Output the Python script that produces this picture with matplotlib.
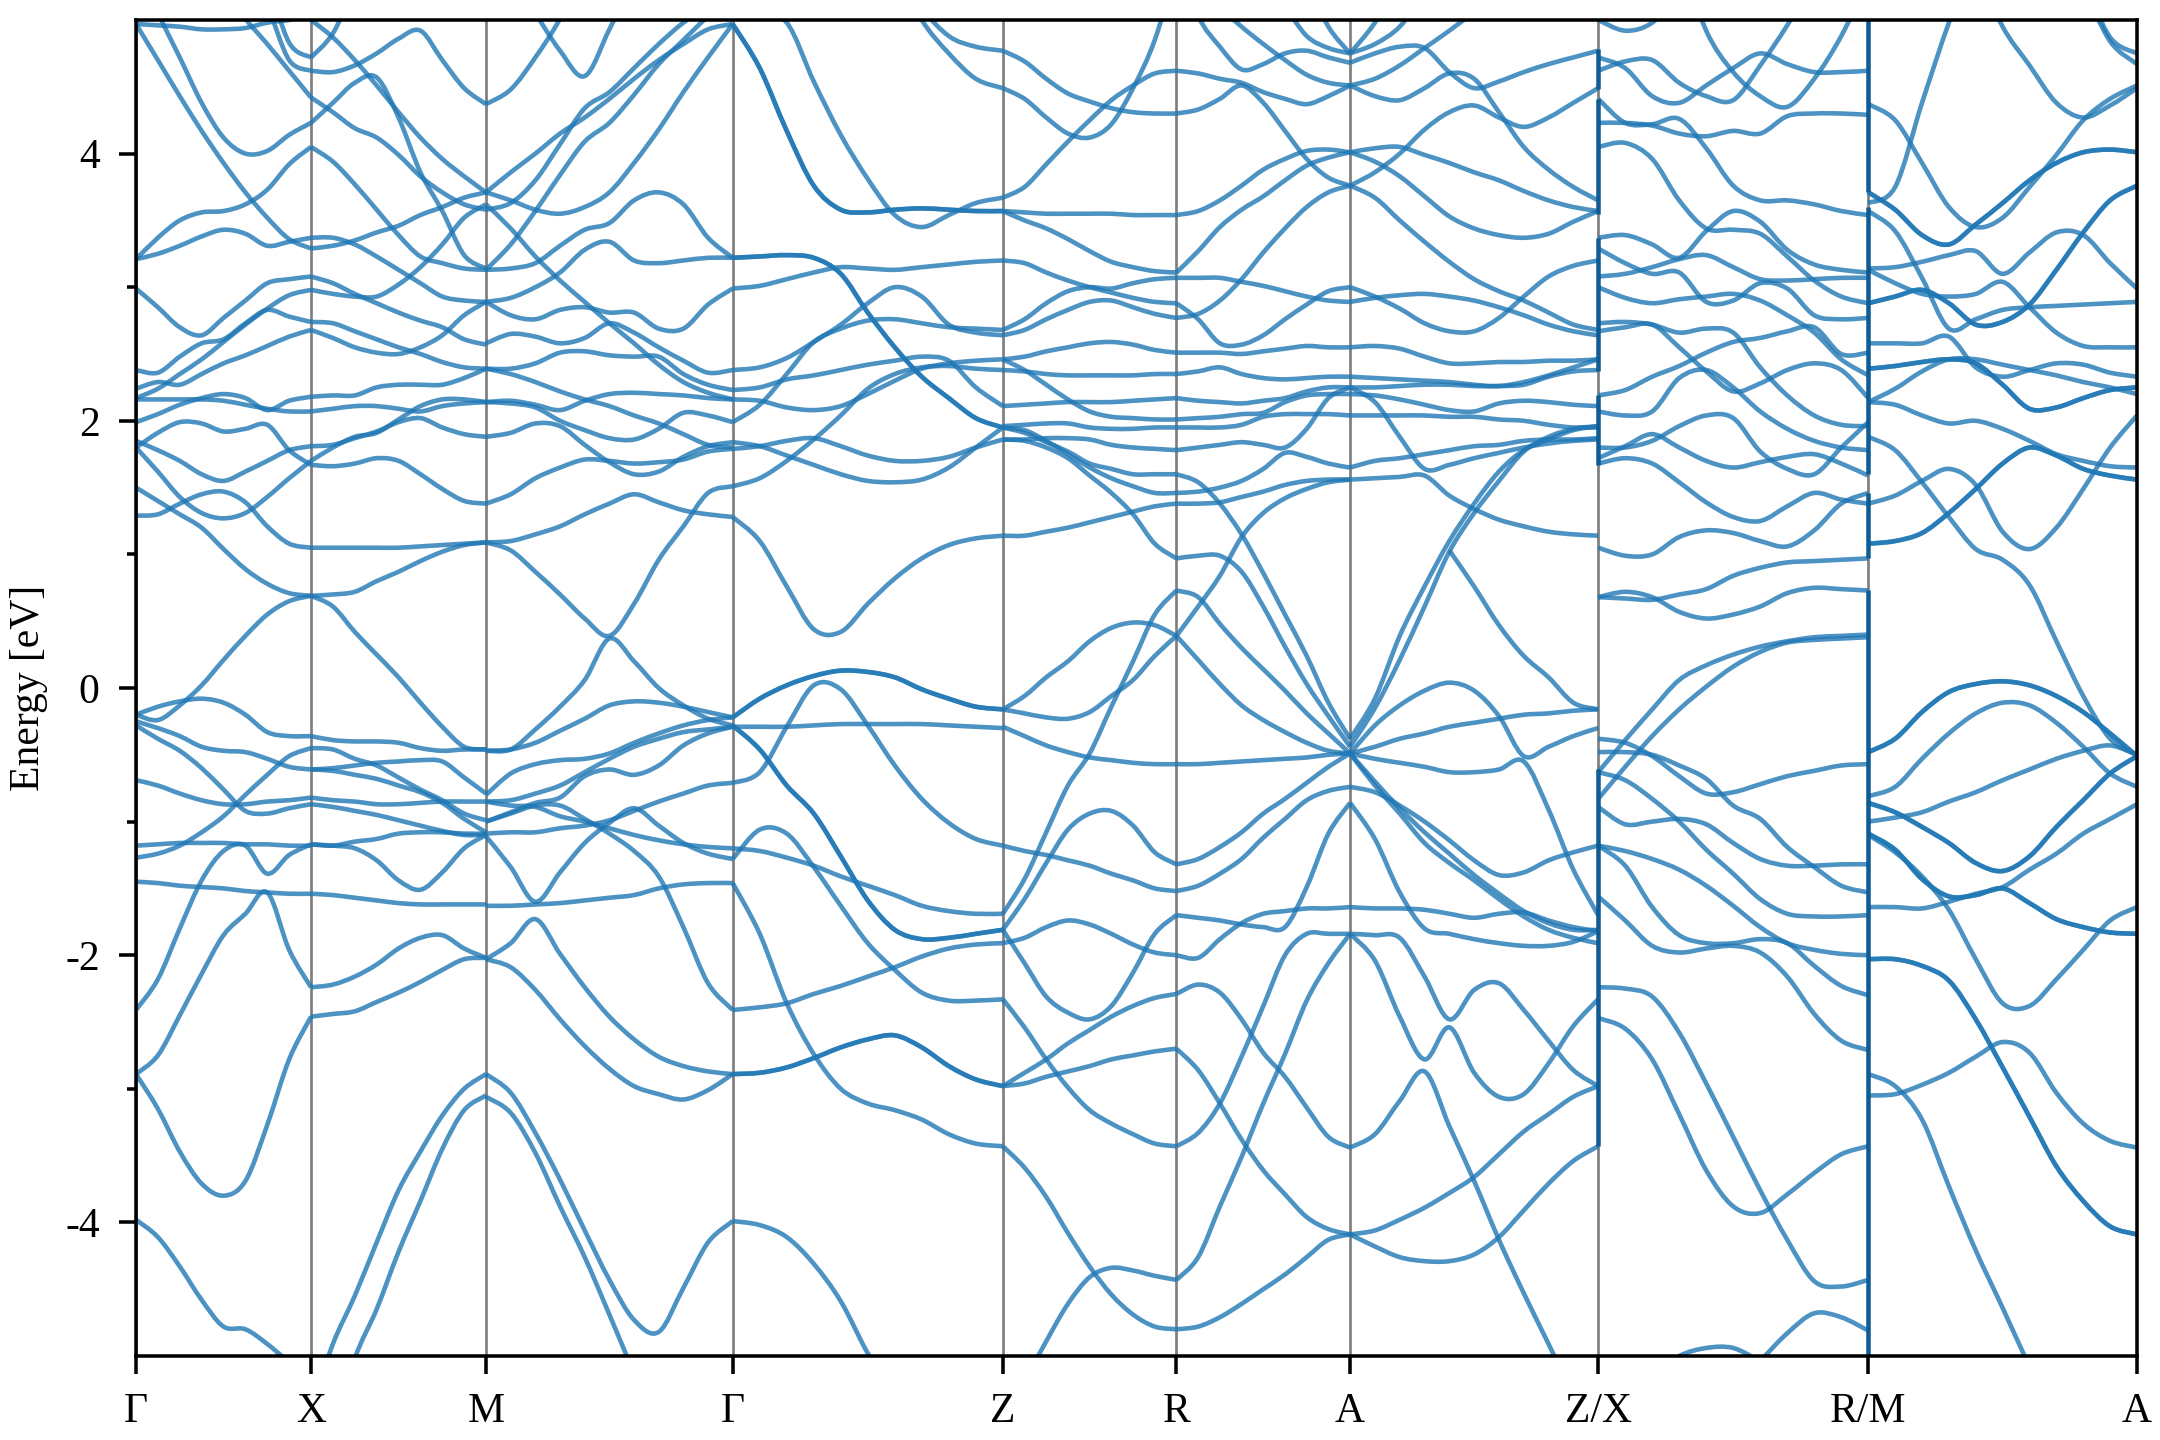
import numpy as np
import matplotlib
matplotlib.use("Agg")
import matplotlib.pyplot as plt
from matplotlib.patches import PathPatch
from matplotlib.path import Path

N = None
tick_pos = [0, 127, 254, 433, 629, 755, 881, 1061, 1257, 1452]
tick_labels = ["Γ", "X", "M", "Γ", "Z", "R", "A", "Z/X", "R/M", "A"]

gamma_x = [
[4.97,4.96,4.95,4.93,4.93,4.94,4.98,5.00,5.03],
[4.97,4.70,4.43,4.17,3.93,3.71,3.52,3.36,3.29],
[5.40,5.05,4.72,4.38,4.12,4.00,4.02,4.14,4.23],
[N,N,N,5.60,5.25,5.01,4.82,4.62,4.42],
[N,N,N,N,5.60,5.35,5.10,4.70,4.62],
[N,N,N,N,N,5.70,5.30,4.83,4.72],
[3.21,3.37,3.50,3.56,3.57,3.62,3.73,3.92,4.05],
[3.21,3.25,3.31,3.38,3.43,3.40,3.31,3.34,3.37],
[2.99,2.85,2.70,2.64,2.77,2.90,3.03,3.06,3.08],
[2.38,2.36,2.48,2.58,2.61,2.73,2.83,2.78,2.74],
[2.24,2.29,2.27,2.35,2.43,2.49,2.56,2.63,2.68],
[2.17,2.24,2.35,2.46,2.59,2.72,2.84,2.94,2.98],
[2.16,2.16,2.16,2.16,2.15,2.12,2.09,2.07,2.07],
[1.99,2.05,2.12,2.17,2.20,2.17,2.08,2.15,2.18],
[1.80,1.91,1.99,1.98,1.92,1.94,1.97,1.78,1.67],
[1.85,1.78,1.70,1.60,1.55,1.62,1.70,1.78,1.81],
[1.80,1.62,1.43,1.31,1.27,1.31,1.43,1.57,1.70],
[1.29,1.30,1.38,1.45,1.47,1.39,1.21,1.08,1.05],
[1.50,1.40,1.30,1.20,1.04,0.89,0.78,0.71,0.69],
[-0.20,-0.24,-0.13,0.02,0.21,0.39,0.55,0.65,0.69],
[-0.20,-0.14,-0.10,-0.08,-0.11,-0.20,-0.33,-0.36,-0.36],
[-0.25,-0.30,-0.36,-0.44,-0.47,-0.48,-0.53,-0.59,-0.61],
[-0.28,-0.38,-0.47,-0.60,-0.76,-0.92,-0.94,-0.90,-0.87],
[-0.69,-0.73,-0.79,-0.84,-0.87,-0.87,-0.85,-0.84,-0.82],
[-1.27,-1.24,-1.18,-1.08,-0.96,-0.80,-0.65,-0.51,-0.45],
[-1.18,-1.17,-1.16,-1.16,-1.16,-1.17,-1.17,-1.18,-1.18],
[-2.41,-2.18,-1.80,-1.44,-1.22,-1.18,-1.39,-1.25,-1.17],
[-1.45,-1.46,-1.48,-1.49,-1.50,-1.52,-1.53,-1.54,-1.54],
[-2.89,-2.75,-2.45,-2.14,-1.85,-1.69,-1.53,-1.96,-2.24],
[-2.89,-3.15,-3.47,-3.71,-3.80,-3.69,-3.27,-2.78,-2.46],
[-3.98,-4.11,-4.33,-4.58,-4.78,-4.80,-4.91,-5.05,-5.20],
]

x_m = [
[5.00,4.87,4.70,4.51,4.31,4.12,3.96,3.83,3.71],
[4.72,4.90,5.25,N,N,N,N,N,N],
[4.62,4.61,4.66,4.75,4.86,4.92,4.70,4.49,4.37],
[4.42,4.31,4.19,4.12,3.99,3.83,3.71,3.62,3.58],
[4.23,4.38,4.53,4.57,4.27,3.86,3.57,3.24,3.14],
[4.05,3.94,3.77,3.58,3.39,3.23,3.18,3.14,3.13],
[3.29,3.31,3.35,3.41,3.46,3.54,3.60,3.67,3.71],
[3.37,3.37,3.32,3.23,3.13,3.03,2.93,2.90,2.89],
[3.08,3.03,2.95,2.88,2.81,2.75,2.70,2.61,2.57],
[2.98,2.95,2.93,2.93,3.02,3.15,3.32,3.52,3.62],
[2.74,2.73,2.67,2.61,2.55,2.50,2.44,2.40,2.39],
[2.68,2.62,2.55,2.51,2.50,2.55,2.64,2.79,2.89],
[2.18,2.19,2.19,2.25,2.27,2.27,2.27,2.32,2.39],
[2.07,2.09,2.11,2.11,2.09,2.07,2.11,2.13,2.14],
[1.67,1.66,1.68,1.72,1.70,1.60,1.49,1.40,1.38],
[1.81,1.82,1.87,1.92,1.99,2.02,1.95,1.90,1.88],
[1.70,1.80,1.88,1.91,2.01,2.11,2.16,2.16,2.14],
[1.05,1.05,1.05,1.05,1.05,1.06,1.07,1.08,1.09],
[0.69,0.70,0.72,0.80,0.87,0.95,1.02,1.07,1.09],
[0.69,0.61,0.42,0.25,0.08,-0.11,-0.29,-0.44,-0.46],
[-0.36,-0.39,-0.40,-0.40,-0.41,-0.45,-0.47,-0.46,-0.46],
[-0.45,-0.46,-0.53,-0.58,-0.67,-0.76,-0.84,-0.94,-0.99],
[-0.61,-0.62,-0.65,-0.68,-0.73,-0.78,-0.86,-0.98,-1.08],
[-0.61,-0.60,-0.58,-0.56,-0.55,-0.54,-0.55,-0.67,-0.79],
[-0.82,-0.84,-0.85,-0.87,-0.87,-0.86,-0.85,-0.85,-0.85],
[-0.87,-0.89,-0.92,-0.95,-0.99,-1.03,-1.07,-1.10,-1.10],
[-1.17,-1.18,-1.15,-1.13,-1.09,-1.08,-1.08,-1.09,-1.09],
[-1.17,-1.18,-1.20,-1.29,-1.44,-1.51,-1.38,-1.20,-1.10],
[-1.54,-1.55,-1.57,-1.59,-1.61,-1.62,-1.62,-1.62,-1.62],
[-2.24,-2.22,-2.16,-2.07,-1.95,-1.87,-1.85,-1.95,-2.02],
[-2.46,-2.44,-2.42,-2.35,-2.28,-2.20,-2.11,-2.03,-2.02],
[-5.40,-4.91,-4.55,-4.15,-3.76,-3.47,-3.20,-3.00,-2.89],
[-6.00,-5.60,-5.02,-4.65,-4.22,-3.84,-3.45,-3.16,-3.05],
]

m_gamma = [
[4.37,4.48,4.72,5.01,5.40,N,N,N,N,N,N],
[N,N,5.05,4.77,4.58,4.93,5.30,N,N,N,N],
[3.71,3.86,4.00,4.15,4.27,4.41,4.56,4.70,4.82,4.93,4.97],
[3.58,3.63,3.80,4.07,4.34,4.46,4.64,4.82,4.98,5.10,5.20],
[3.13,3.32,3.57,3.84,4.09,4.23,4.44,4.67,4.85,5.03,5.20],
[3.62,3.44,3.23,3.05,2.89,2.73,2.58,2.42,2.29,2.21,2.16],
[3.71,3.65,3.58,3.55,3.60,3.71,3.93,4.18,4.46,4.72,4.97],
[3.13,3.14,3.18,3.31,3.43,3.48,3.65,3.71,3.62,3.37,3.22],
[2.89,2.92,3.00,3.11,3.28,3.34,3.20,3.18,3.20,3.22,3.22],
[2.89,2.79,2.76,2.83,2.85,2.81,2.81,2.69,2.69,2.87,2.99],
[2.58,2.65,2.63,2.58,2.62,2.73,2.66,2.55,2.45,2.36,2.38],
[2.39,2.39,2.43,2.51,2.52,2.49,2.48,2.48,2.35,2.27,2.23],
[2.14,2.15,2.12,2.08,2.15,2.20,2.21,2.20,2.19,2.17,2.16],
[2.39,2.35,2.29,2.22,2.16,2.11,2.04,1.98,1.90,1.82,1.80],
[2.14,2.13,2.10,2.00,1.93,1.87,1.86,1.94,2.06,2.04,1.99],
[1.88,1.91,1.98,1.96,1.82,1.69,1.60,1.62,1.73,1.81,1.84],
[1.38,1.45,1.57,1.65,1.71,1.70,1.68,1.69,1.71,1.77,1.79],
[1.09,1.10,1.15,1.21,1.30,1.38,1.45,1.39,1.33,1.30,1.28],
[1.09,1.03,0.87,0.70,0.52,0.39,0.63,0.96,1.21,1.46,1.51],
[-0.47,-0.46,-0.31,-0.14,0.06,0.37,0.20,0.00,-0.13,-0.23,-0.28],
[-0.47,-0.46,-0.41,-0.32,-0.23,-0.13,-0.10,-0.11,-0.14,-0.18,-0.22],
[-0.80,-0.64,-0.57,-0.54,-0.53,-0.49,-0.41,-0.34,-0.28,-0.24,-0.22],
[-0.85,-0.84,-0.79,-0.73,-0.63,-0.53,-0.44,-0.38,-0.33,-0.31,-0.29],
[-1.00,-0.93,-0.86,-0.82,-0.66,-0.61,-0.65,-0.58,-0.43,-0.34,-0.29],
[-0.85,-0.88,-0.89,-0.96,-1.00,-1.05,-1.10,-1.14,-1.17,-1.19,-1.20],
[-1.09,-1.08,-1.08,-1.05,-1.03,-0.99,-0.92,-0.85,-0.79,-0.73,-0.71],
[-1.11,-1.34,-1.60,-1.38,-1.16,-1.01,-0.90,-1.03,-1.16,-1.24,-1.28],
[-1.00,-0.94,-0.88,-0.88,-0.98,-1.09,-1.22,-1.41,-1.79,-2.21,-2.41],
[-1.63,-1.63,-1.62,-1.61,-1.59,-1.57,-1.55,-1.50,-1.47,-1.46,-1.46],
[-2.03,-1.91,-1.73,-1.99,-2.24,-2.46,-2.63,-2.76,-2.83,-2.87,-2.89],
[-2.03,-2.09,-2.26,-2.48,-2.68,-2.85,-2.98,-3.04,-3.08,-3.01,-2.89],
[-2.89,-3.03,-3.33,-3.68,-4.06,-4.43,-4.73,-4.82,-4.49,-4.15,-3.99],
[-3.06,-3.18,-3.48,-3.88,-4.26,-4.69,-5.13,N,N,N,N],
]

gamma_z = [
[4.97,4.64,4.17,3.76,3.58,3.56,3.58,3.59,3.58,3.57,3.57],
[5.20,5.03,4.98,4.54,4.14,3.81,3.54,3.45,3.54,3.63,3.67],
[N,N,N,N,N,5.70,5.40,5.00,4.75,4.56,4.49],
[N,N,N,N,N,N,5.50,5.10,4.88,4.80,4.77],
[3.22,3.23,3.24,3.22,3.10,2.81,2.55,2.33,2.17,2.02,1.95],
[2.99,3.01,3.06,3.11,3.15,3.14,3.13,3.15,3.17,3.19,3.20],
[2.38,2.40,2.47,2.59,2.72,2.88,3.00,2.93,2.72,2.66,2.64],
[2.23,2.25,2.31,2.34,2.38,2.42,2.45,2.48,2.45,2.25,2.11],
[1.99,2.12,2.35,2.59,2.69,2.75,2.76,2.73,2.70,2.69,2.68],
[2.16,2.15,2.10,2.08,2.11,2.20,2.30,2.39,2.43,2.45,2.46],
[1.79,1.81,1.85,1.87,1.81,1.74,1.70,1.70,1.73,1.80,1.86],
[1.84,1.81,1.74,1.67,1.60,1.55,1.54,1.56,1.65,1.80,1.95],
[1.51,1.57,1.70,1.86,2.04,2.24,2.35,2.40,2.41,2.39,2.38],
[1.28,1.10,0.76,0.44,0.42,0.63,0.82,0.97,1.07,1.12,1.14],
[-0.22,-0.08,0.02,0.09,0.13,0.12,0.08,-0.01,-0.08,-0.14,-0.16],
[-0.29,-0.29,-0.29,-0.28,-0.27,-0.27,-0.27,-0.27,-0.28,-0.29,-0.30],
[-0.71,-0.63,-0.29,0.02,-0.01,-0.28,-0.58,-0.83,-1.01,-1.13,-1.18],
[-0.28,-0.46,-0.73,-0.94,-1.26,-1.59,-1.81,-1.88,-1.87,-1.84,-1.81],
[-1.20,-1.22,-1.27,-1.33,-1.41,-1.48,-1.55,-1.63,-1.67,-1.69,-1.69],
[-1.28,-1.06,-1.09,-1.34,-1.63,-1.91,-2.11,-2.28,-2.34,-2.34,-2.33],
[-1.46,-1.84,-2.36,-2.74,-3.00,-3.11,-3.16,-3.23,-3.34,-3.41,-3.43],
[-2.41,-2.39,-2.36,-2.29,-2.23,-2.16,-2.09,-2.01,-1.95,-1.92,-1.91],
[-2.89,-2.88,-2.84,-2.77,-2.69,-2.63,-2.60,-2.69,-2.83,-2.93,-2.98],
[-3.99,-4.02,-4.11,-4.31,-4.59,-4.98,-5.30,N,N,N,N],
]

z_r = [
[4.77,4.69,4.56,4.45,4.39,4.34,4.31,4.30,4.30],
[4.49,4.41,4.27,4.15,4.12,4.22,4.49,4.85,5.40],
[3.67,3.75,3.92,4.09,4.25,4.40,4.51,4.60,4.62],
[3.57,3.56,3.55,3.55,3.55,3.55,3.54,3.54,3.54],
[3.57,3.50,3.44,3.36,3.27,3.19,3.15,3.12,3.11],
[3.20,3.18,3.11,3.05,3.00,2.96,2.92,2.89,2.88],
[2.68,2.76,2.88,2.97,3.00,2.99,3.03,3.06,3.07],
[2.64,2.68,2.76,2.83,2.89,2.90,2.85,2.80,2.77],
[2.46,2.48,2.52,2.55,2.58,2.59,2.57,2.53,2.51],
[2.38,2.37,2.35,2.34,2.34,2.34,2.34,2.35,2.35],
[2.46,2.38,2.27,2.16,2.07,2.03,2.02,2.01,2.01],
[2.11,2.12,2.13,2.14,2.14,2.14,2.15,2.16,2.17],
[1.96,1.97,1.98,1.98,1.95,1.94,1.94,1.95,1.95],
[1.86,1.86,1.87,1.87,1.86,1.82,1.80,1.79,1.78],
[1.95,1.93,1.85,1.75,1.65,1.57,1.51,1.46,1.46],
[1.95,1.91,1.84,1.77,1.68,1.64,1.60,1.60,1.60],
[1.86,1.85,1.80,1.72,1.59,1.46,1.30,1.08,0.97],
[1.14,1.14,1.17,1.20,1.24,1.28,1.32,1.36,1.38],
[-0.16,-0.06,0.08,0.20,0.35,0.45,0.49,0.47,0.39],
[-0.16,-0.19,-0.22,-0.23,-0.18,-0.06,0.06,0.24,0.39],
[-0.29,-0.36,-0.43,-0.48,-0.52,-0.54,-0.56,-0.57,-0.57],
[-1.69,-1.43,-1.08,-0.73,-0.49,-0.14,0.20,0.55,0.73],
[-1.81,-1.58,-1.31,-1.06,-0.94,-0.92,-1.03,-1.23,-1.32],
[-1.18,-1.22,-1.25,-1.29,-1.33,-1.39,-1.44,-1.50,-1.52],
[-1.91,-1.87,-1.79,-1.74,-1.77,-1.84,-1.92,-1.98,-2.00],
[-1.81,-2.06,-2.31,-2.43,-2.48,-2.38,-2.13,-1.84,-1.70],
[-2.33,-2.54,-2.78,-2.99,-3.16,-3.26,-3.34,-3.41,-3.43],
[-2.98,-2.96,-2.91,-2.87,-2.83,-2.78,-2.75,-2.72,-2.70],
[-2.98,-2.88,-2.78,-2.66,-2.56,-2.46,-2.38,-2.32,-2.29],
[-3.43,-3.59,-3.81,-4.08,-4.33,-4.54,-4.69,-4.78,-4.80],
[-5.60,-5.20,-4.89,-4.61,-4.41,-4.34,-4.36,-4.40,-4.43],
]

r_a = [
[5.50,5.03,4.80,4.63,4.67,4.75,4.77,4.72,4.68],
[N,5.30,5.10,4.95,4.82,4.70,4.59,4.53,4.51],
[N,N,N,N,5.30,5.10,4.88,4.79,4.75],
[N,N,N,N,N,N,5.30,4.95,4.75],
[4.62,4.60,4.56,4.53,4.46,4.41,4.37,4.43,4.51],
[4.30,4.33,4.41,4.51,4.38,4.17,3.96,3.82,3.76],
[3.54,3.57,3.65,3.76,3.88,3.96,4.02,4.03,4.01],
[3.11,3.27,3.45,3.58,3.68,3.80,3.91,3.97,4.01],
[2.77,2.80,2.90,3.06,3.26,3.44,3.60,3.71,3.76],
[3.07,3.07,3.07,3.04,3.01,2.97,2.93,2.90,2.89],
[2.88,2.76,2.58,2.57,2.64,2.76,2.87,2.97,3.00],
[2.51,2.51,2.51,2.50,2.52,2.54,2.56,2.55,2.55],
[2.35,2.37,2.40,2.35,2.32,2.31,2.32,2.33,2.33],
[2.17,2.15,2.14,2.13,2.15,2.17,2.22,2.25,2.25],
[2.01,2.02,2.03,2.05,2.06,2.14,2.19,2.20,2.20],
[1.95,1.95,1.95,1.97,2.03,2.05,2.05,2.05,2.04],
[1.78,1.80,1.82,1.84,1.82,1.80,1.94,2.17,2.25],
[1.60,1.54,1.38,1.15,0.86,0.55,0.24,-0.11,-0.38],
[1.46,1.47,1.50,1.55,1.64,1.76,1.73,1.68,1.65],
[1.38,1.38,1.39,1.43,1.47,1.52,1.55,1.56,1.56],
[0.97,0.99,0.99,0.87,0.61,0.31,0.03,-0.21,-0.44],
[0.73,0.68,0.48,0.30,0.14,-0.02,-0.19,-0.34,-0.49],
[0.39,0.21,0.03,-0.13,-0.24,-0.33,-0.41,-0.47,-0.49],
[0.39,0.61,0.84,1.13,1.31,1.42,1.49,1.54,1.56],
[-0.57,-0.57,-0.56,-0.55,-0.54,-0.53,-0.52,-0.50,-0.49],
[-1.32,-1.28,-1.19,-1.08,-0.94,-0.83,-0.71,-0.59,-0.49],
[-1.52,-1.48,-1.39,-1.28,-1.12,-0.98,-0.84,-0.77,-0.74],
[-2.00,-2.02,-1.88,-1.76,-1.69,-1.67,-1.65,-1.65,-1.64],
[-1.70,-1.72,-1.74,-1.77,-1.79,-1.79,-1.49,-1.09,-0.86],
[-2.29,-2.22,-2.28,-2.48,-2.73,-2.91,-3.14,-3.36,-3.44],
[-2.70,-2.86,-3.11,-3.38,-3.61,-3.79,-3.96,-4.05,-4.09],
[-3.43,-3.33,-3.11,-2.76,-2.38,-2.00,-1.84,-1.84,-1.84],
[-4.43,-4.26,-3.88,-3.51,-3.11,-2.74,-2.34,-2.06,-1.84],
[-4.80,-4.78,-4.71,-4.61,-4.50,-4.39,-4.26,-4.13,-4.09],
]

a_z = [
[4.75,4.82,4.95,5.20,N,N,N,N,N,N,N],
[4.75,4.98,5.30,N,N,N,N,N,N,N,N],
[4.68,4.75,4.80,4.79,4.61,4.49,4.54,4.61,4.67,4.72,4.77],
[4.51,4.43,4.40,4.49,4.60,4.56,4.31,4.05,3.88,3.75,3.65],
[4.51,4.56,4.66,4.79,4.92,5.06,N,N,N,N,N],
[3.76,3.86,4.00,4.18,4.31,4.36,4.27,4.20,4.27,4.38,4.49],
[4.01,4.04,4.05,3.99,3.93,3.86,3.80,3.72,3.65,3.60,3.57],
[4.01,3.94,3.83,3.68,3.53,3.44,3.39,3.37,3.40,3.49,3.57],
[3.76,3.67,3.50,3.34,3.19,3.06,2.97,2.90,2.81,2.72,2.68],
[2.89,2.92,2.94,2.95,2.93,2.90,2.85,2.79,2.72,2.67,2.64],
[3.00,2.93,2.84,2.73,2.67,2.67,2.77,2.93,3.08,3.16,3.20],
[2.55,2.56,2.54,2.48,2.43,2.43,2.44,2.44,2.45,2.45,2.46],
[2.33,2.32,2.31,2.30,2.29,2.27,2.26,2.29,2.34,2.40,2.46],
[2.25,2.25,2.26,2.27,2.27,2.26,2.26,2.27,2.33,2.37,2.38],
[2.25,2.14,1.88,1.64,1.67,1.72,1.76,1.80,1.83,1.85,1.86],
[2.20,2.19,2.16,2.12,2.08,2.07,2.13,2.15,2.14,2.12,2.11],
[2.04,2.04,2.04,2.04,2.03,2.03,2.01,2.00,1.97,1.95,1.95],
[1.65,1.70,1.72,1.75,1.78,1.81,1.82,1.85,1.86,1.86,1.87],
[1.56,1.57,1.58,1.59,1.44,1.34,1.26,1.21,1.17,1.15,1.14],
[-0.38,-0.08,0.39,0.76,1.10,1.38,1.62,1.78,1.86,1.93,1.96],
[-0.44,-0.15,0.21,0.61,1.02,1.31,1.55,1.77,1.88,1.94,1.96],
[N,N,N,N,1.03,0.76,0.47,0.24,0.08,-0.11,-0.16],
[-0.49,-0.28,-0.13,-0.02,0.04,-0.02,-0.21,-0.51,-0.44,-0.36,-0.30],
[-0.49,-0.53,-0.56,-0.59,-0.63,-0.63,-0.61,-0.55,-0.91,-1.36,-1.70],
[-0.49,-0.44,-0.38,-0.34,-0.29,-0.26,-0.23,-0.20,-0.19,-0.17,-0.16],
[-0.49,-0.73,-0.94,-1.16,-1.31,-1.44,-1.58,-1.71,-1.81,-1.87,-1.91],
[-0.49,-0.70,-0.90,-1.08,-1.24,-1.40,-1.54,-1.67,-1.76,-1.81,-1.81],
[-0.74,-0.78,-0.88,-1.00,-1.14,-1.29,-1.40,-1.38,-1.29,-1.23,-1.18],
[-0.86,-1.13,-1.53,-1.80,-1.84,-1.88,-1.91,-1.93,-1.93,-1.90,-1.82],
[-1.64,-1.65,-1.65,-1.66,-1.69,-1.72,-1.69,-1.68,-1.74,-1.79,-1.82],
[-1.84,-1.85,-1.87,-2.16,-2.48,-2.26,-2.21,-2.41,-2.64,-2.86,-2.98],
[-1.84,-2.04,-2.46,-2.78,-2.54,-2.88,-3.06,-3.04,-2.81,-2.53,-2.33],
[-3.44,-3.34,-3.09,-2.87,-3.28,-3.69,-4.13,-4.53,-4.91,-5.30,N],
[-4.09,-4.18,-4.26,-4.29,-4.29,-4.24,-4.11,-3.91,-3.71,-3.54,-3.43],
[-4.09,-4.06,-3.98,-3.89,-3.78,-3.66,-3.49,-3.32,-3.19,-3.06,-2.98],
]

x_r = [
[5.00,4.92,4.98,5.20,N,N,N,N,N,N,N],
[4.62,4.69,4.70,4.53,4.43,4.40,4.66,4.96,5.30,N,N],
[4.72,4.64,4.43,4.38,4.51,4.64,4.75,4.67,4.61,4.61,4.62],
[N,N,N,5.50,4.92,4.61,4.43,4.35,4.56,4.88,5.30],
[4.41,4.23,4.22,4.26,4.04,3.76,3.65,3.65,3.62,3.57,3.54],
[4.23,4.23,4.21,4.15,4.13,4.17,4.15,4.28,4.30,4.30,4.29],
[4.05,4.08,3.96,3.65,3.44,3.43,3.40,3.23,3.05,2.93,2.88],
[3.37,3.39,3.32,3.22,3.42,3.57,3.49,3.28,3.17,3.13,3.11],
[3.08,3.10,3.15,3.21,3.24,3.15,3.06,3.05,3.06,3.07,3.07],
[3.29,3.18,3.10,3.11,2.89,2.90,3.03,2.99,2.79,2.76,2.77],
[3.00,2.92,2.88,2.91,2.93,2.95,2.90,2.79,2.66,2.46,2.34],
[2.73,2.74,2.72,2.66,2.69,2.66,2.40,2.19,2.04,1.97,1.96],
[2.67,2.70,2.72,2.55,2.37,2.22,2.28,2.38,2.43,2.38,2.17],
[2.19,2.23,2.33,2.41,2.51,2.59,2.62,2.67,2.70,2.50,2.51],
[2.07,2.04,2.07,2.32,2.38,2.25,2.07,1.94,1.85,1.80,1.78],
[1.72,1.81,1.90,1.80,1.70,1.65,1.69,1.73,1.75,1.68,1.59],
[1.80,1.80,1.85,1.96,2.04,2.02,1.77,1.64,1.60,1.80,1.99],
[1.68,1.72,1.68,1.54,1.39,1.28,1.25,1.36,1.46,1.41,1.38],
[1.05,0.99,1.00,1.13,1.18,1.16,1.10,1.06,1.18,1.38,1.46],
[0.68,0.67,0.66,0.70,0.74,0.84,0.90,0.94,0.95,0.96,0.97],
[0.68,0.72,0.68,0.57,0.52,0.55,0.61,0.71,0.75,0.74,0.73],
[-0.63,-0.39,-0.16,0.06,0.17,0.25,0.31,0.35,0.38,0.39,0.40],
[-0.83,-0.59,-0.36,-0.16,0.01,0.16,0.27,0.34,0.36,0.37,0.38],
[-0.38,-0.41,-0.51,-0.66,-0.79,-0.78,-0.72,-0.66,-0.62,-0.58,-0.57],
[-0.48,-0.48,-0.50,-0.58,-0.68,-0.88,-0.98,-1.19,-1.34,-1.48,-1.53],
[-0.63,-0.69,-0.83,-1.00,-1.21,-1.39,-1.58,-1.69,-1.71,-1.71,-1.70],
[-0.89,-1.02,-1.00,-0.98,-1.02,-1.16,-1.28,-1.33,-1.33,-1.32,-1.32],
[-1.18,-1.22,-1.28,-1.36,-1.48,-1.63,-1.79,-1.91,-1.96,-1.99,-2.00],
[-1.18,-1.33,-1.64,-1.85,-1.91,-1.91,-1.88,-1.91,-2.08,-2.23,-2.30],
[-1.56,-1.74,-1.93,-1.98,-1.95,-1.93,-1.98,-2.16,-2.44,-2.64,-2.71],
[-2.24,-2.25,-2.31,-2.58,-2.96,-3.36,-3.76,-4.13,-4.44,-4.48,-4.43],
[-2.47,-2.55,-2.78,-3.19,-3.61,-3.88,-3.93,-3.79,-3.63,-3.49,-3.43],
[N,N,-5.14,-5.00,-4.94,-4.94,-5.04,N,N,N,N],
[N,N,N,N,N,-5.28,-5.04,-4.83,-4.68,-4.71,-4.81],
]

m_a = [
[3.63,3.75,4.38,4.98,5.50,N,N,N,N,N,N],
[4.37,4.25,3.93,3.60,3.45,3.52,3.75,3.99,4.25,4.41,4.51],
[N,N,N,N,5.40,4.95,4.66,4.38,4.27,4.36,4.49],
[N,N,N,N,N,N,N,N,5.30,4.87,4.75],
[N,N,N,N,N,N,N,N,5.25,4.84,4.67],
[3.71,3.58,3.39,3.32,3.47,3.63,3.80,3.93,4.01,4.03,4.01],
[3.57,3.42,3.07,2.69,2.76,2.83,2.85,2.86,2.87,2.88,2.89],
[3.14,3.15,3.19,3.24,3.27,3.10,3.26,3.41,3.39,3.18,2.99],
[2.88,2.93,2.98,2.88,2.72,2.74,2.87,3.13,3.41,3.65,3.76],
[3.13,3.03,2.95,2.93,2.95,3.04,2.85,2.66,2.56,2.55,2.55],
[2.58,2.58,2.58,2.63,2.40,2.33,2.38,2.43,2.42,2.36,2.33],
[2.39,2.41,2.44,2.46,2.43,2.27,2.09,2.10,2.17,2.23,2.25],
[2.14,2.24,2.37,2.46,2.46,2.42,2.38,2.34,2.29,2.25,2.20],
[2.14,2.12,2.04,1.98,2.00,1.94,1.85,1.75,1.70,1.66,1.65],
[1.88,1.78,1.54,1.28,1.04,0.96,0.77,0.35,-0.06,-0.38,-0.50],
[1.38,1.44,1.55,1.64,1.52,1.17,1.04,1.20,1.49,1.80,2.04],
[1.08,1.10,1.16,1.31,1.49,1.68,1.80,1.74,1.64,1.59,1.56],
[-0.48,-0.38,-0.18,-0.03,0.03,0.05,0.02,-0.06,-0.18,-0.34,-0.51],
[-0.81,-0.74,-0.53,-0.34,-0.19,-0.11,-0.13,-0.26,-0.44,-0.64,-0.74],
[-1.00,-0.97,-0.93,-0.85,-0.78,-0.69,-0.61,-0.53,-0.47,-0.43,-0.50],
[-0.86,-0.93,-1.04,-1.16,-1.31,-1.37,-1.26,-1.04,-0.84,-0.64,-0.51],
[-1.64,-1.64,-1.65,-1.60,-1.54,-1.49,-1.36,-1.24,-1.09,-0.98,-0.87],
[-1.09,-1.21,-1.43,-1.56,-1.55,-1.50,-1.61,-1.73,-1.79,-1.83,-1.84],
[-1.10,-1.23,-1.41,-1.66,-2.03,-2.36,-2.38,-2.18,-1.96,-1.74,-1.64],
[-2.03,-2.03,-2.08,-2.19,-2.48,-2.84,-3.21,-3.58,-3.84,-4.03,-4.09],
[-3.05,-3.04,-2.97,-2.88,-2.76,-2.65,-2.73,-3.03,-3.26,-3.39,-3.44],
[-2.89,-2.98,-3.23,-3.73,-4.21,-4.64,-5.08,-5.50,N,N,N],
]

segments = [gamma_x, x_m, m_gamma, gamma_z, z_r, r_a, a_z, x_r, m_a]
seg_start = [0, 127, 254, 433, 629, 755, 881, 1061, 1257]
seg_end = [127, 254, 433, 629, 755, 881, 1061, 1257, 1452]
# Bands that are doubly degenerate in the reference and so print darker.
gamma_z_double = [0, 4, 14, 17, 22]
m_a_double = [5, 8, 11, 16, 17, 20, 22, 24]
z_x_jumps = [(4.78, 4.48), (4.41, 3.55), (3.37, 2.37), (2.19, 1.67), (-0.61, -3.43)]
r_m_jumps = [(5.0, 3.71), (3.60, 1.60), (1.46, 0.97), (0.73, -5.0)]

plt.rcParams["font.family"] = ["Liberation Serif", "DejaVu Serif"]
plt.rcParams["axes.unicode_minus"] = False
BAND = "#1f77b4"


def band_path(xs, ys):
    """Smooth stroke through the read points (Catmull-Rom as cubic Beziers)."""
    pts = np.column_stack([xs, ys])
    verts = [pts[0]]
    codes = [Path.MOVETO]
    n = len(pts)
    for i in range(n - 1):
        p0 = pts[max(i - 1, 0)]
        p1 = pts[i]
        p2 = pts[i + 1]
        p3 = pts[min(i + 2, n - 1)]
        verts += [p1 + (p2 - p0) / 6, p2 - (p3 - p1) / 6, p2]
        codes += [Path.CURVE4] * 3
    return Path(verts, codes)


fig = plt.figure(figsize=(7.2, 4.8), dpi=300)
ax = fig.add_axes([136 / 2160, 1 - 1356 / 1440, (2137 - 136) / 2160, (1356 - 20) / 1440])

for p in tick_pos:
    ax.axvline(p, color="black", alpha=0.5, lw=0.65, zorder=1)

for k, (seg, a, b) in enumerate(zip(segments, seg_start, seg_end)):
    doubled = gamma_z_double if seg is gamma_z else m_a_double if seg is m_a else []
    for r, row in enumerate(seg):
        xs = np.linspace(a, b, len(row))
        ys = np.array([np.nan if v is None else v for v in row], dtype=float)
        keep = ~np.isnan(ys)
        for _ in range(2 if r in doubled else 1):
            ax.add_patch(PathPatch(band_path(xs[keep], ys[keep]), fill=False,
                                   edgecolor=BAND, alpha=0.8, lw=1.1,
                                   capstyle="butt", joinstyle="round", zorder=2))

for pos, jumps in ((1061, z_x_jumps), (1257, r_m_jumps)):
    for lo, hi in jumps:
        ax.plot([pos, pos], [lo, hi], color="#0b5a94", alpha=0.95, lw=1.1,
                solid_capstyle="butt", zorder=2.5)

ax.set_xlim(tick_pos[0], tick_pos[-1])
ax.set_ylim(-5, 5)
ax.set_xticks(tick_pos)
ax.set_xticklabels(tick_labels)
ax.set_yticks([-4, -2, 0, 2, 4])
ax.set_yticks([-3, -1, 1, 3], minor=True)
ax.tick_params(axis="both", which="major", length=4.2, width=0.85, labelsize=10)
ax.tick_params(axis="x", which="major", pad=4.5)
ax.tick_params(axis="y", which="major", pad=4.5)
ax.tick_params(axis="y", which="minor", length=2.2, width=0.85)
ax.set_ylabel("Energy [eV]", fontsize=10, labelpad=4)
for s in ax.spines.values():
    s.set_linewidth(0.85)

fig.savefig("out.png", dpi=300)
